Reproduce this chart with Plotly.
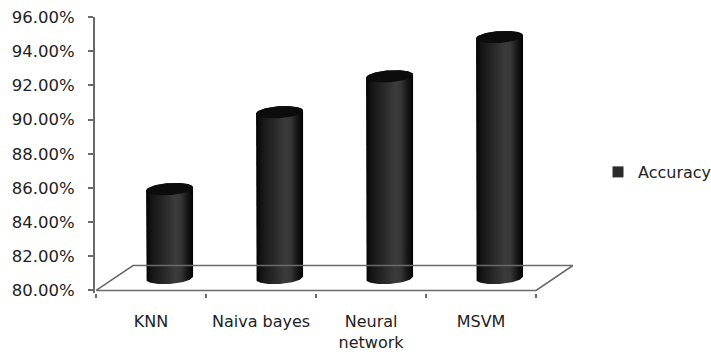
import numpy as np
import plotly.graph_objects as go

# Classifier accuracy (fractions, shown as percentages)
categories = ["KNN", "Naiva bayes", "Neural<br>network", "MSVM"]
accuracy = [0.852, 0.897, 0.918, 0.941]
y_ticks = [0.80, 0.82, 0.84, 0.86, 0.88, 0.90, 0.92, 0.94, 0.96]
series_name = "Accuracy"

# 3D look: floor depth and cylinder geometry in axis units
DEPTH_X = 0.336
DEPTH_Y = 0.0146
RX = 0.2136
RY = 0.0035
TILT = 0.0009
Y_MIN = 0.80

FONT = "DejaVu Sans"
AXIS_GREY = "#6a6a6a"

fig = go.Figure()

# Floor of the 3D plot area
n = len(categories)
floor_x = [0, n, n + DEPTH_X, DEPTH_X, 0]
floor_y = [Y_MIN, Y_MIN, Y_MIN + DEPTH_Y, Y_MIN + DEPTH_Y, Y_MIN]
fig.add_trace(go.Scatter(
    x=floor_x, y=floor_y, mode="lines", xaxis="x2",
    line=dict(color=AXIS_GREY, width=1.6),
    hoverinfo="skip", showlegend=False,
))

shade = [
    [0.0, "#020202"], [0.12, "#151515"], [0.35, "#262626"],
    [0.62, "#3b3b3b"], [0.74, "#363636"], [0.88, "#161616"], [1.0, "#010101"],
]

t_bot = np.linspace(np.pi, 2 * np.pi, 60)
t_top = np.linspace(0, np.pi, 60)
t_all = np.linspace(0, 2 * np.pi, 120)

for i, v in enumerate(accuracy):
    cx = i + 0.5 + DEPTH_X / 2
    base = Y_MIN + DEPTH_Y / 2
    top = v + DEPTH_Y / 2

    # Cylinder body: left side, bottom front arc, right side, top back arc
    bx = np.concatenate([
        [cx - RX],
        cx + RX * np.cos(t_bot),
        cx + RX * np.cos(t_top),
    ])
    by = np.concatenate([
        [top - TILT],
        base + RY * np.sin(t_bot) + TILT * np.cos(t_bot),
        top + RY * np.sin(t_top) + TILT * np.cos(t_top),
    ])
    fig.add_trace(go.Scatter(
        x=bx, y=by, mode="lines", fill="toself",
        line=dict(width=0),
        fillgradient=dict(type="horizontal", colorscale=shade),
        hoverinfo="skip", showlegend=False,
    ))

    # Cylinder cap
    fig.add_trace(go.Scatter(
        x=cx + RX * np.cos(t_all),
        y=top + RY * np.sin(t_all) + TILT * np.cos(t_all),
        mode="lines", fill="toself",
        line=dict(width=0), fillcolor="#0c0c0c",
        hoverinfo="skip", showlegend=False,
    ))

# Legend entry
fig.add_trace(go.Scatter(
    x=[None], y=[None], mode="markers", name=series_name,
    marker=dict(symbol="square", size=11, color="#2b2b2b"),
))

x_range = [-0.01, n + DEPTH_X]

fig.update_layout(
    width=711, height=356,
    margin=dict(l=95, r=138, t=17, b=63, autoexpand=False),
    paper_bgcolor="white", plot_bgcolor="white",
    font=dict(family=FONT, size=16, color="#222222"),
    xaxis=dict(
        type="linear", range=x_range, automargin=False,
        tickvals=[i + 0.5 for i in range(n)], ticktext=categories,
        ticks="", showgrid=False, zeroline=False, showline=False,
        ticklabelstandoff=17,
        tickfont=dict(family=FONT, size=16, color="#222222"),
    ),
    xaxis2=dict(
        type="linear", range=x_range, overlaying="x", anchor="y", side="bottom",
        automargin=False,
        tickvals=list(range(n + 1)), ticks="outside", ticklen=4, tickwidth=1.6,
        tickcolor=AXIS_GREY, showticklabels=False,
        showgrid=False, zeroline=False, showline=False,
    ),
    yaxis=dict(
        range=[0.7985, 0.96], tickvals=y_ticks, tickformat=".2%", automargin=False,
        ticks="outside", ticklen=5, tickwidth=1.6, tickcolor=AXIS_GREY,
        showline=True, linecolor=AXIS_GREY, linewidth=2,
        showgrid=False, zeroline=False,
        ticklabelstandoff=10,
        tickfont=dict(family=FONT, size=16.5, color="#222222"),
    ),
    legend=dict(
        x=(598 - 95) / 478, xanchor="left", y=(293 - 172) / 276, yanchor="middle",
        bgcolor="rgba(0,0,0,0)", borderwidth=0,
        font=dict(family=FONT, size=16, color="#222222"),
    ),
)

fig.write_html("out.html")
